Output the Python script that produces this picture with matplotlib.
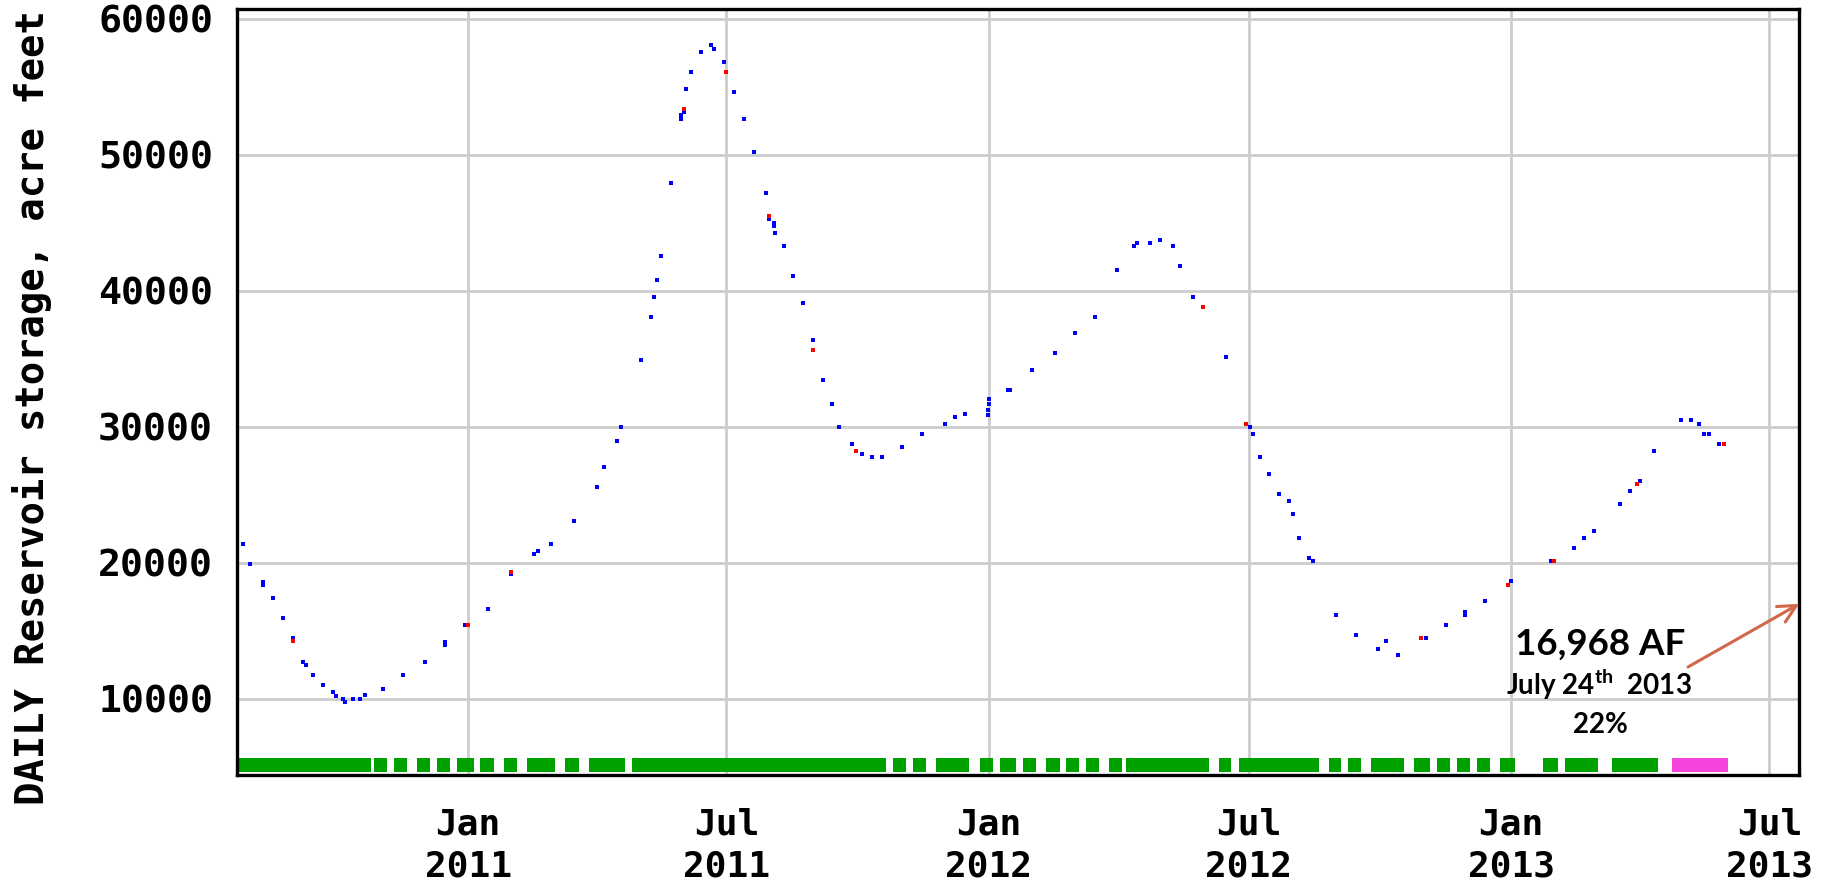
import pandas as pd
import matplotlib
matplotlib.use('Agg')
import matplotlib.pyplot as plt
import matplotlib.dates as mdates

# daily storage readings (acre feet)
blue_dates = [
    '2010-07-27', '2010-08-01', '2010-08-10', '2010-08-10', '2010-08-17', '2010-08-24',
    '2010-08-31', '2010-09-07', '2010-09-09', '2010-09-14', '2010-09-21', '2010-09-28',
    '2010-09-30', '2010-10-05', '2010-10-07', '2010-10-12', '2010-10-17', '2010-10-21',
    '2010-11-02', '2010-11-16', '2010-12-02', '2010-12-16', '2010-12-16', '2010-12-30',
    '2011-01-15', '2011-01-31', '2011-02-16', '2011-02-19', '2011-02-28', '2011-03-16',
    '2011-04-01', '2011-04-06', '2011-04-15', '2011-04-18', '2011-05-02', '2011-05-09',
    '2011-05-11', '2011-05-13', '2011-05-16', '2011-05-23', '2011-05-30', '2011-05-30',
    '2011-06-01', '2011-06-03', '2011-06-06', '2011-06-13', '2011-06-20', '2011-06-22',
    '2011-06-29', '2011-07-06', '2011-07-13', '2011-07-20', '2011-07-29', '2011-07-31',
    '2011-08-03', '2011-08-03', '2011-08-04', '2011-08-10', '2011-08-17', '2011-08-24',
    '2011-08-31', '2011-09-07', '2011-09-13', '2011-09-18', '2011-09-27', '2011-10-04',
    '2011-10-11', '2011-10-18', '2011-11-01', '2011-11-15', '2011-12-01', '2011-12-08',
    '2011-12-15', '2011-12-31', '2011-12-31', '2012-01-01', '2012-01-01', '2012-01-14',
    '2012-01-16', '2012-01-31', '2012-02-16', '2012-03-01', '2012-03-15', '2012-03-31',
    '2012-04-12', '2012-04-14', '2012-04-23', '2012-04-30', '2012-05-09', '2012-05-14',
    '2012-05-23', '2012-06-15', '2012-07-02', '2012-07-04', '2012-07-09', '2012-07-15',
    '2012-07-22', '2012-07-29', '2012-08-01', '2012-08-05', '2012-08-12', '2012-08-15',
    '2012-08-31', '2012-09-14', '2012-09-30', '2012-10-05', '2012-10-14', '2012-11-02',
    '2012-11-16', '2012-11-30', '2012-11-30', '2012-12-14', '2013-01-01', '2013-01-29',
    '2013-02-14', '2013-02-21', '2013-02-28', '2013-03-18', '2013-03-25', '2013-04-01',
    '2013-04-11', '2013-04-30', '2013-05-07', '2013-05-13', '2013-05-16', '2013-05-20',
    '2013-05-27',
]
blue_values = [
    21330, 19860, 18580, 18340, 17360, 15890,
    14420, 12690, 12450, 11720, 10980, 10490,
    10220, 10000, 9750, 10000, 10000, 10240,
    10740, 11720, 12690, 14170, 13920, 15400,
    16620, 19130, 20600, 20820, 21330, 23030,
    25530, 27000, 28960, 29950, 34880, 38090,
    39560, 40790, 42530, 47930, 52930, 52640,
    53130, 54820, 56070, 57550, 58060, 57790,
    56810, 54600, 52610, 50160, 47210, 45280,
    45000, 44760, 44220, 43270, 41060, 39070,
    36350, 33410, 31680, 29950, 28690, 27960,
    27740, 27740, 28470, 29450, 30190, 30680,
    30920, 30850, 31250, 31650, 32030, 32670,
    32670, 34140, 35390, 36860, 38090, 41520,
    43270, 43490, 43490, 43730, 43270, 41800,
    39560, 35140, 29950, 29450, 27740, 26490,
    25010, 24540, 23540, 21820, 20350, 20080,
    16150, 14680, 13680, 14200, 13210, 14420,
    15420, 16400, 16150, 17140, 18610, 20080,
    21080, 21820, 22290, 24280, 25280, 26020,
    28220, 30460, 30460, 30210, 29470, 29470,
    28690,
]

# month-end readings, shown in red
red_dates = ['2010-08-31', '2011-01-01', '2011-01-31', '2011-06-01', '2011-07-01',
             '2011-07-31', '2011-08-31', '2011-09-30', '2012-05-30', '2012-06-29',
             '2012-10-30', '2012-12-30', '2013-01-31', '2013-03-30', '2013-05-30']
red_values = [14220, 15400, 19320, 53350, 56070,
              45480, 35610, 28200, 38800, 30190,
              14420, 18360, 20080, 25750, 28690]

# data-availability bar along the bottom
bar_starts = ['2010-07-23', '2010-10-27', '2010-11-10', '2010-11-26', '2010-12-10',
              '2010-12-24', '2011-01-09', '2011-01-26', '2011-02-11', '2011-03-10',
              '2011-03-27', '2011-04-26', '2011-10-26', '2011-11-09', '2011-11-25',
              '2011-12-26', '2012-01-09', '2012-01-25', '2012-02-10', '2012-02-24',
              '2012-03-09', '2012-03-25', '2012-04-06', '2012-06-10', '2012-06-24',
              '2012-08-26', '2012-09-09', '2012-09-25', '2012-10-25', '2012-11-10',
              '2012-11-24', '2012-12-08', '2012-12-24', '2013-01-23', '2013-02-08',
              '2013-03-13']
bar_ends = ['2010-10-25', '2010-11-05', '2010-11-19', '2010-12-05', '2010-12-19',
            '2011-01-05', '2011-01-19', '2011-02-04', '2011-03-03', '2011-03-20',
            '2011-04-21', '2011-10-21', '2011-11-04', '2011-11-18', '2011-12-18',
            '2012-01-04', '2012-01-20', '2012-02-03', '2012-02-20', '2012-03-04',
            '2012-03-18', '2012-04-03', '2012-06-03', '2012-06-19', '2012-08-19',
            '2012-09-04', '2012-09-18', '2012-10-18', '2012-11-05', '2012-11-19',
            '2012-12-03', '2012-12-17', '2013-01-04', '2013-02-03', '2013-03-03',
            '2013-04-14']
pink_start = '2013-04-24'
pink_end = '2013-06-02'

tick_dates = ['2011-01-01', '2011-07-01', '2012-01-01', '2012-07-01', '2013-01-01', '2013-07-01']
tick_labels = ['Jan\n2011', 'Jul\n2011', 'Jan\n2012', 'Jul\n2012', 'Jan\n2013', 'Jul\n2013']
y_ticks = [10000, 20000, 30000, 40000, 50000, 60000]

latest_value = 16968

plt.rcParams['mathtext.fontset'] = 'custom'
plt.rcParams['mathtext.rm'] = 'Lato:bold'
plt.rcParams['mathtext.it'] = 'Lato:bold'
plt.rcParams['mathtext.bf'] = 'Lato:bold'

W, H = 1826, 886
fig = plt.figure(figsize=(W / 100, H / 100), dpi=100)
ax = fig.add_axes([0.1296, 0.1249, 0.8558, 0.8653])

ax.grid(True, color='#cccccc', linewidth=2.0)
ax.set_axisbelow(True)

ax.plot(pd.to_datetime(blue_dates), blue_values, linestyle='None', marker='s',
        markersize=2.5, markeredgewidth=0, color='#0000ff', zorder=3)
ax.plot(pd.to_datetime(red_dates), red_values, linestyle='None', marker='s',
        markersize=2.5, markeredgewidth=0, color='#ff0000', zorder=4)

s = mdates.date2num(pd.to_datetime(bar_starts))
e = mdates.date2num(pd.to_datetime(bar_ends))
ax.broken_barh(list(zip(s, e - s)), (4620, 1030), facecolors='#00a000', zorder=2)
ps = mdates.date2num(pd.Timestamp(pink_start))
pe = mdates.date2num(pd.Timestamp(pink_end))
ax.broken_barh([(ps, pe - ps)], (4620, 1030), facecolors='#f444dc', zorder=2)

x_right = pd.Timestamp('2013-07-22')
ax.set_xlim(pd.Timestamp('2010-07-22 17:00'), x_right)
ax.set_ylim(4355, 60730)

ax.set_yticks(y_ticks)
ax.set_yticklabels([str(v) for v in y_ticks], family='DejaVu Sans Mono',
                   weight='bold', fontsize=27.5)
ax.set_xticks(pd.to_datetime(tick_dates))
ax.set_xticklabels(tick_labels, family='DejaVu Sans Mono', weight='bold',
                   fontsize=26, linespacing=1.3)
ax.tick_params(axis='y', length=0, pad=17)
ax.tick_params(axis='x', length=0, pad=23)

for sp in ax.spines.values():
    sp.set_linewidth(2.4)
    sp.set_color('black')

fig.text(32 / W, 1 - 408 / H, 'DAILY Reservoir storage, acre feet', rotation=90,
         ha='center', va='center', family='DejaVu Sans Mono', weight='bold',
         fontsize=28)

# note on the latest reading
fig.text(1600 / W, 1 - 655 / H, '16,968 AF', ha='center', va='baseline',
         family='Lato', weight='bold', fontsize=26.5)
fig.text(1599 / W, 1 - 695 / H, r'July 24$^{\mathrm{th}}$  2013', ha='center',
         va='baseline', family='Lato', weight='bold', fontsize=20)
fig.text(1600 / W, 1 - 733 / H, '22%', ha='center', va='baseline',
         family='Lato', weight='bold', fontsize=20)
ax.annotate('', xy=(x_right, latest_value), xycoords='data',
            xytext=(1688, H - 667), textcoords='figure pixels',
            arrowprops=dict(arrowstyle='->', color='#d2674b', lw=2.2,
                            mutation_scale=32, shrinkA=0, shrinkB=0),
            annotation_clip=False)

fig.savefig('out.png', dpi=100)
